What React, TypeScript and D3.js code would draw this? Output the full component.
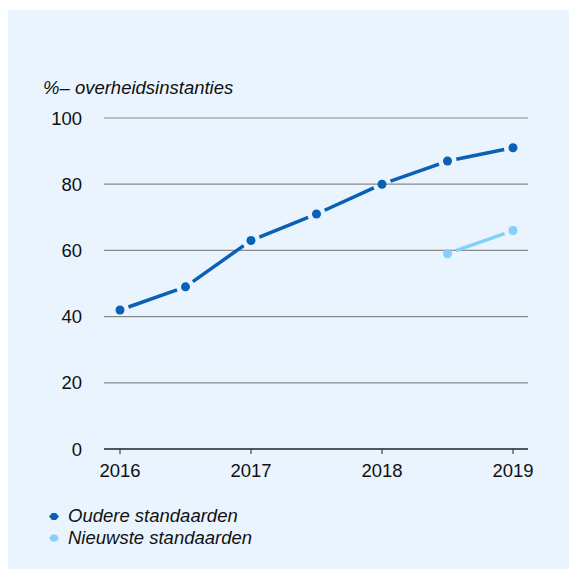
import React from "react";
import * as d3 from "d3";

const years = [2016, 2016.5, 2017, 2017.5, 2018, 2018.5, 2019];
const oudere = [42, 49, 63, 71, 80, 87, 91];
const nieuwsteYears = [2018.5, 2019];
const nieuwste = [59, 66];
const yTicks = [0, 20, 40, 60, 80, 100];
const xTicks = [2016, 2017, 2018, 2019];
const seriesNames = ["Oudere standaarden", "Nieuwste standaarden"];
const colors = ["#0a60b6", "#84cffb"];

const font = "Liberation Sans, Arial, sans-serif";
const fs = 18.5;

export default function App() {
  const x = d3.scaleLinear().domain([2016, 2019]).range([120, 513]);
  const y = d3.scaleLinear().domain([0, 100]).range([449, 118]);
  const gap = 9;

  const segs = (xs: number[], vs: number[]) => {
    const out: { x1: number; y1: number; x2: number; y2: number }[] = [];
    for (let i = 0; i < xs.length - 1; i++) {
      const ax = x(xs[i]), ay = y(vs[i]), bx = x(xs[i + 1]), by = y(vs[i + 1]);
      const len = Math.hypot(bx - ax, by - ay);
      const ux = (bx - ax) / len, uy = (by - ay) / len;
      out.push({ x1: ax + ux * gap, y1: ay + uy * gap, x2: bx - ux * gap, y2: by - uy * gap });
    }
    return out;
  };

  const series = [
    { xs: years, vs: oudere, color: colors[0] },
    { xs: nieuwsteYears, vs: nieuwste, color: colors[1] },
  ];

  return (
    <svg width={569} height={569} style={{ position: "fixed", left: 0, top: 0, display: "block" }}>
      <rect x={0} y={0} width={569} height={569} fill="#ffffff" />
      <rect x={8} y={10} width={561} height={559} fill="#e9f4fe" />
      <text x={43} y={94} fontFamily={font} fontSize={fs} fontStyle="italic" fill="#111">
        %– overheidsinstanties
      </text>
      {yTicks.map((t) => (
        <g key={t}>
          {t > 0 && (
            <line x1={104} x2={528} y1={y(t)} y2={y(t)} stroke="#8a8a8a" strokeWidth={1.2} />
          )}
          <text x={82} y={y(t) + 6.5} textAnchor="end" fontFamily={font} fontSize={fs} fill="#111">
            {t}
          </text>
        </g>
      ))}
      <line x1={104} x2={528} y1={y(0)} y2={y(0)} stroke="#222" strokeWidth={1.5} />
      {xTicks.map((t) => (
        <g key={t}>
          <line x1={x(t)} x2={x(t)} y1={y(0)} y2={y(0) + 5} stroke="#222" strokeWidth={1} />
          <text x={x(t)} y={477} textAnchor="middle" fontFamily={font} fontSize={fs} fill="#111">
            {t}
          </text>
        </g>
      ))}
      {series.map((s, si) => (
        <g key={si}>
          {segs(s.xs, s.vs).map((g, i) => (
            <line key={i} x1={g.x1} y1={g.y1} x2={g.x2} y2={g.y2} stroke={s.color} strokeWidth={3.5} strokeLinecap="butt" />
          ))}
          {s.xs.map((xv, i) => (
            <circle key={i} cx={x(xv)} cy={y(s.vs[i])} r={4.5} fill={s.color} />
          ))}
        </g>
      ))}
      {seriesNames.map((n, i) => (
        <g key={n} transform={`translate(0, ${i * 21.5})`}>
          <path
            d={`M49,516.5 L52,513 L56,513 L59,516.5 L56,520 L52,520 Z`}
            fill={colors[i]}
          />
          <text x={68} y={522} fontFamily={font} fontSize={fs} fontStyle="italic" fill="#111">
            {n}
          </text>
        </g>
      ))}
    </svg>
  );
}
